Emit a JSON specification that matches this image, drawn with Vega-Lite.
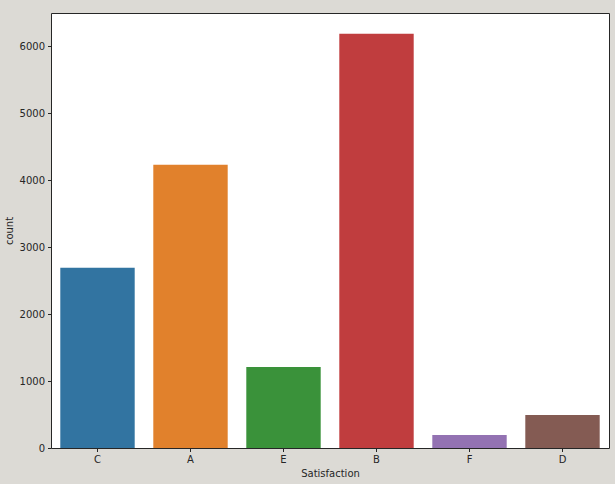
{
  "$schema": "https://vega.github.io/schema/vega-lite/v6.json",
  "autosize": "none",
  "width": 558,
  "height": 435,
  "padding": {"left": 51, "top": 13, "right": 6, "bottom": 36},
  "background": "#dcdad5",
  "config": {
    "font": "DejaVu Sans",
    "view": {"fill": "white", "stroke": "#262626", "strokeWidth": 1},
    "axis": {
      "labelFont": "DejaVu Sans",
      "titleFont": "DejaVu Sans",
      "labelFontSize": 10,
      "titleFontSize": 10,
      "labelColor": "#262626",
      "titleColor": "#262626",
      "titleFontWeight": "normal",
      "tickColor": "#262626",
      "tickSize": 3.5,
      "domain": false,
      "grid": false
    }
  },
  "data": {
    "values": [
      {"Satisfaction": "C", "count": 2689},
      {"Satisfaction": "A", "count": 4227},
      {"Satisfaction": "E", "count": 1210},
      {"Satisfaction": "B", "count": 6184},
      {"Satisfaction": "F", "count": 194},
      {"Satisfaction": "D", "count": 493}
    ]
  },
  "mark": {"type": "bar"},
  "encoding": {
    "x": {
      "field": "Satisfaction",
      "type": "nominal",
      "sort": ["C", "A", "E", "B", "F", "D"],
      "scale": {"paddingInner": 0.2, "paddingOuter": 0.1},
      "axis": {"labelAngle": 0, "labelPadding": 3, "titlePadding": 4}
    },
    "y": {
      "field": "count",
      "type": "quantitative",
      "title": "count",
      "scale": {"domain": [0, 6493], "nice": false},
      "axis": {"values": [0, 1000, 2000, 3000, 4000, 5000, 6000], "format": "d", "labelPadding": 3, "titlePadding": 5}
    },
    "color": {
      "field": "Satisfaction",
      "type": "nominal",
      "sort": ["C", "A", "E", "B", "F", "D"],
      "scale": {"range": ["#3274a1", "#e1812c", "#3a923a", "#c03d3e", "#9372b2", "#845b53"]},
      "legend": null
    }
  }
}
